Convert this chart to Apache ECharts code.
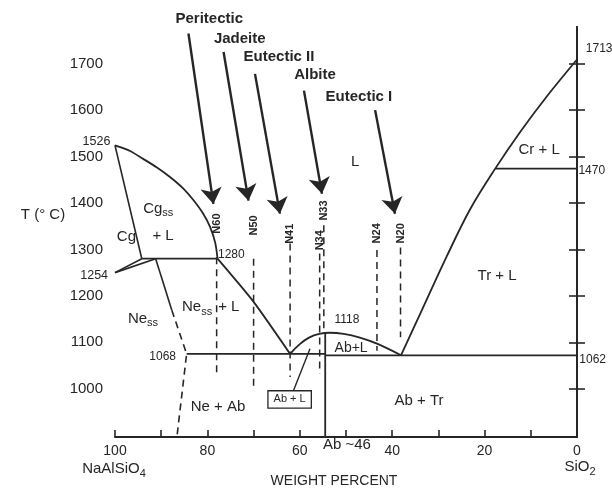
<!DOCTYPE html>
<html><head><meta charset="utf-8">
<script src="https://cdn.jsdelivr.net/npm/echarts@6/dist/echarts.min.js"></script>
<style>html,body{margin:0;padding:0;background:#fff}#c{width:612px;height:491px}</style>
</head><body><div id="c"></div>
<script>
// ---------- data (weight percent NaAlSiO4, temperature °C) ----------
const xTickLabels = [100, 80, 60, 40, 20, 0];
const yTickValues = [1000, 1100, 1200, 1300, 1400, 1500, 1600, 1700];

const cgLiquidus = [[100,1524],[96.75,1512],[93.9,1495],[91.0,1477],[88.1,1456],[85.2,1431],[83.0,1406],[80.9,1377],[79.4,1348],[78.3,1314],[77.8,1280]];
const neLiquidus = [[77.8,1280],[70.0,1187],[62.1,1075]];
const abLiquidus = [[62.1,1075],[60.0,1096],[58.0,1110],[55.8,1118],[53.5,1120.5],[50.5,1118],[47.0,1110],[43.3,1097],[38.1,1072]];
const silicaLiquidus = [[38.1,1072],[34.0,1160],[28.2,1285],[23.1,1387],[17.7,1474],[12.3,1553],[6.5,1630],[0,1709]];
const cgSolvus = [[100,1524],[94.2,1280]];
const wedgeUpper = [[100,1250],[94.2,1280]];
const wedgeLower = [[100,1250],[91.2,1280]];
const peritecticLine = [[94.2,1280],[77.8,1280]];
const eutecticIILine = [[84.5,1075],[54.5,1075]];
const eutecticILine = [[54.5,1072],[0,1072]];
const cristobaliteLine = [[17.7,1474],[0,1474]];
const albiteLine = [[54.5,1120],[54.5,896]];
const nessSolvus = [[91.2,1280],[87.7,1169]];
const nessSolvusDashed = [[87.7,1169],[84.5,1075],[86.6,896]];
const abPointer = [[61.4,995],[57.8,1086]];

const nLabels = ['N60','N50','N41','N34','N33','N24','N20'];
const nX      = [78.0, 70.0, 62.1, 55.7, 54.8, 43.3, 38.2];
const nTop    = [1283, 1280, 1313, 1291, 1352, 1299, 1304];
const nBottom = [1025, 1000, 1025, 1032, 1122, 1082, 1111];
const nLabelBase = [1334, 1330, 1312, 1298, 1362, 1313, 1313];

const arrowLabels = ['Peritectic','Jadeite','Eutectic II','Albite','Eutectic I'];
const arrowFrom = [[84.1,1765],[76.5,1725],[69.7,1678],[59.1,1642],[43.7,1600]];
const arrowTo   = [[78.7,1398],[71.1,1405],[64.3,1377],[55.2,1420],[39.4,1377]];
const arrowLabelAt = [[79.6,1797],[73.0,1754],[64.5,1714],[56.7,1675],[47.2,1628]];

// ---------- chart ----------
const FONT = '"Liberation Sans", Arial, Helvetica, sans-serif';
const INK = '#262626';
const chart = echarts.init(document.getElementById('c'), null, {renderer: 'canvas'});

function seg(data, opt) {
  opt = opt || {};
  return {
    type: 'line', data: data, showSymbol: false, symbol: 'none',
    smooth: opt.smooth || false, silent: true, animation: false, clip: false,
    lineStyle: {color: INK, width: opt.width || 1.6, type: opt.dashed ? [7, 5] : 'solid'}
  };
}

const series = [
  seg(cgLiquidus, {smooth: 0.25, width: 1.8}),
  seg(neLiquidus, {smooth: 0.2, width: 1.8}),
  seg(abLiquidus, {smooth: 0.4, width: 1.8}),
  seg(silicaLiquidus, {smooth: 0.35, width: 1.8}),
  seg(cgSolvus), seg(wedgeUpper), seg(wedgeLower),
  seg(peritecticLine, {width: 1.8}), seg(eutecticIILine, {width: 1.8}), seg(eutecticILine, {width: 1.8}),
  seg(cristobaliteLine, {width: 1.8}), seg(albiteLine, {width: 1.8}),
  seg(nessSolvus), seg(nessSolvusDashed, {dashed: true}), seg(abPointer, {width: 1.4})
];
nX.forEach((x, i) => series.push(seg([[x, nTop[i]], [x, nBottom[i]]], {dashed: true, width: 1.5})));
series.push({
  type: 'lines', coordinateSystem: 'cartesian2d', silent: true, animation: false,
  symbol: ['none', 'arrow'], symbolSize: 16,
  lineStyle: {color: INK, width: 2.4, opacity: 1},
  data: arrowFrom.map((f, i) => ({coords: [f, arrowTo[i]]}))
});

const yAxisBase = {
  type: 'value', min: 896, max: 1779,
  axisLine: {show: true, lineStyle: {color: INK, width: 2}},
  axisTick: {show: true, inside: true, length: 8, customValues: yTickValues, lineStyle: {color: INK, width: 1.6}},
  splitLine: {show: false}
};

chart.setOption({
  animation: false,
  backgroundColor: '#fff',
  grid: {left: 115, right: 35, top: 27, bottom: 54, containLabel: false},
  xAxis: {
    type: 'value', min: 0, max: 100, interval: 10, inverse: true,
    axisLine: {lineStyle: {color: INK, width: 2}},
    axisTick: {inside: true, length: 7, lineStyle: {color: INK, width: 1.6}},
    axisLabel: {customValues: xTickLabels, fontSize: 14, color: INK, fontFamily: FONT, margin: 7, formatter: v => String(v)},
    splitLine: {show: false}
  },
  yAxis: [
    Object.assign({}, yAxisBase, {position: 'left',
      axisLabel: {customValues: yTickValues, fontSize: 15, color: INK, fontFamily: FONT, margin: 12, formatter: v => String(v)}}),
    Object.assign({}, yAxisBase, {position: 'right', axisLabel: {show: false}})
  ],
  series: series
});

// ---------- text annotations ----------
function px(x, T) { return chart.convertToPixel({seriesIndex: 0}, [x, T]); }
function t(x, T, text, o) {
  o = o || {};
  const p = px(x, T);
  return {
    type: 'text', x: p[0] + (o.dx || 0), y: p[1] + (o.dy || 0), rotation: o.rotation || 0, silent: true, z: 10,
    style: Object.assign({
      text: text, fill: INK, fontSize: o.size || 15, fontFamily: FONT, fontWeight: o.weight || 'normal',
      align: o.align || 'center', verticalAlign: o.valign || 'middle',
      textAlign: o.align || 'center', textVerticalAlign: o.valign || 'middle'
    }, o.style || {})
  };
}
function sub(base, s, size) {
  return {
    text: '{a|' + base + '}{s|' + s + '}',
    rich: {
      a: {fontSize: size, fontFamily: FONT, fill: INK, color: INK},
      s: {fontSize: Math.round(size * 0.75), fontFamily: FONT, fill: INK, color: INK, padding: [9, 0, 0, 0]}
    }
  };
}

const g = [];
// region labels
g.push(t(48.0, 1488, 'L'));
g.push(t(8.2, 1514, 'Cr + L'));
g.push(t(17.3, 1244, 'Tr + L'));
g.push(t(34.2, 973, 'Ab + Tr'));
g.push(t(48.9, 1087, 'Ab+L', {size: 14}));
g.push(t(77.7, 960, 'Ne + Ab'));
g.push(t(85.5, 1176, '', {align: 'left', style: sub('Ne', 'ss', 15)}));
g.push(t(78.1, 1176, '+ L', {align: 'left', dx: 2}));
g.push(t(97.2, 1151, '', {align: 'left', style: sub('Ne', 'ss', 15)}));
g.push(t(93.9, 1388, '', {align: 'left', style: sub('Cg', 'ss', 15)}));
g.push(t(89.6, 1330, '+ L'));
g.push(t(99.6, 1326, 'Cg', {align: 'left'}));
g.push(t(62.2, 977, 'Ab + L', {size: 11, style: {backgroundColor: '#fff', borderColor: INK, borderWidth: 1.3, padding: [3, 5, 2, 5]}}));
// point values
g.push(t(49.8, 1148, '1118', {size: 12}));
g.push(t(77.7, 1289, '1280', {size: 12, align: 'left'}));
g.push(t(86.8, 1068, '1068', {size: 12, align: 'right'}));
g.push(t(101.0, 1533, '1526', {size: 12.5, align: 'right'}));
g.push(t(101.5, 1244, '1254', {size: 12.5, align: 'right'}));
g.push(t(-1.9, 1732, '1713', {size: 12, align: 'left'}));
g.push(t(-0.3, 1469, '1470', {size: 12, align: 'left'}));
g.push(t(-0.5, 1062, '1062', {size: 12, align: 'left'}));
// N labels (rotated)
nLabels.forEach((lab, i) => g.push(t(nX[i], nLabelBase[i], lab, {size: 11, weight: 'bold', rotation: Math.PI / 2, align: 'left'})));
// arrow titles
arrowLabels.forEach((lab, i) => g.push(t(arrowLabelAt[i][0], arrowLabelAt[i][1], lab, {size: 15, weight: 'bold'})));
// axis titles
g.push({type: 'text', x: 43, y: 215, silent: true, style: {text: 'T (° C)', fill: INK, fontSize: 15, fontFamily: FONT, align: 'center', verticalAlign: 'middle', textAlign: 'center', textVerticalAlign: 'middle'}});
g.push({type: 'text', x: 334, y: 481, silent: true, style: {text: 'WEIGHT PERCENT', fill: INK, fontSize: 14, fontFamily: FONT, align: 'center', verticalAlign: 'middle', textAlign: 'center', textVerticalAlign: 'middle'}});
g.push({type: 'text', x: 114, y: 469, silent: true, style: Object.assign(sub('NaAlSiO', '4', 15), {align: 'center', verticalAlign: 'middle', textAlign: 'center', textVerticalAlign: 'middle'})});
g.push({type: 'text', x: 580, y: 467, silent: true, style: Object.assign(sub('SiO', '2', 15), {align: 'center', verticalAlign: 'middle', textAlign: 'center', textVerticalAlign: 'middle'})});
g.push({type: 'text', x: 323, y: 445, silent: true, style: {text: 'Ab ~46', fill: INK, fontSize: 15, fontFamily: FONT, align: 'left', verticalAlign: 'middle', textAlign: 'left', textVerticalAlign: 'middle'}});

chart.setOption({graphic: {elements: g}});
</script>
</body></html>
